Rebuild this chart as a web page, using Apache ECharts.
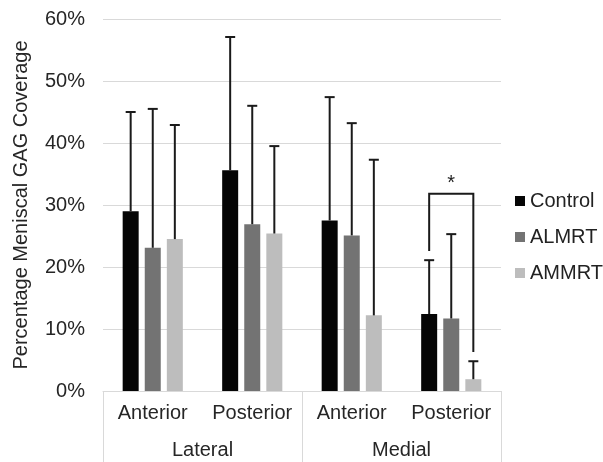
<!DOCTYPE html>
<html style="height: 100%">
<head>
    <meta charset="utf-8">
    <script src="https://cdn.jsdelivr.net/npm/echarts@6/dist/echarts.min.js"></script>
</head>
<body style="height: 100%; margin: 0; background: #fff">
<div id="container" style="width: 603px; height: 462px"></div>
<script type="text/javascript">
// data (percent)
var positions = ['Anterior', 'Posterior', 'Anterior', 'Posterior'];
var regions = ['Lateral', 'Medial'];
var groups = ['Control', 'ALMRT', 'AMMRT'];
var colors = ['#050505', '#737373', '#bdbdbd'];

var control = [29.0, 35.6, 27.5, 12.4];
var almrt = [23.1, 26.9, 25.1, 11.7];
var ammrt = [24.5, 25.4, 12.2, 1.9];

// upper error bars (sd)
var controlErr = [16.0, 21.5, 19.9, 8.7];
var almrtErr = [22.4, 19.1, 18.1, 13.6];
var ammrtErr = [18.4, 14.1, 25.1, 2.9];

// significance bracket: Control vs AMMRT at Medial Posterior
var sigCategory = 3;
var sigTop = 31.8, sigLeftEnd = 22.6, sigRightEnd = 6.3, sigStarAt = 33.8;

var values = [control, almrt, ammrt];
var errors = [controlErr, almrtErr, ammrtErr];
var font = "'Liberation Sans', Arial, sans-serif";
var BAR_W = 16, BAR_GAP = '38%';

var dom = document.getElementById("container");
var myChart = echarts.init(dom);

function offsets(api) {
    return api.barLayout({count: 3, barWidth: BAR_W, barGap: BAR_GAP}).map(function (b) {
        return b.offsetCenter;
    });
}

var series = [];
groups.forEach(function (g, i) {
    series.push({
        name: g,
        type: 'bar',
        barWidth: BAR_W,
        barGap: BAR_GAP,
        itemStyle: {color: colors[i]},
        data: values[i]
    });
});
groups.forEach(function (g, i) {
    series.push({
        name: g + ' error',
        type: 'custom',
        z: 5,
        data: values[i].map(function (v, k) { return [k, v, errors[i][k]]; }),
        renderItem: function (params, api) {
            var k = api.value(0), v = api.value(1), e = api.value(2);
            var off = offsets(api)[i];
            var p0 = api.coord([k, v]);
            var p1 = api.coord([k, v + e]);
            var x = p0[0] + off;
            var style = {stroke: '#1a1a1a', lineWidth: 2};
            return {
                type: 'group',
                children: [
                    {type: 'line', shape: {x1: x, y1: p0[1], x2: x, y2: p1[1]}, style: style},
                    {type: 'line', shape: {x1: x - 5, y1: p1[1], x2: x + 5, y2: p1[1]}, style: style}
                ]
            };
        }
    });
});
series.push({
    name: 'significance',
    type: 'custom',
    z: 6,
    data: [[sigCategory, sigTop, sigLeftEnd, sigRightEnd, sigStarAt]],
    renderItem: function (params, api) {
        var off = offsets(api);
        var k = api.value(0);
        var top = api.coord([k, api.value(1)]);
        var yl = api.coord([k, api.value(2)])[1];
        var yr = api.coord([k, api.value(3)])[1];
        var ys = api.coord([k, api.value(4)])[1];
        var xl = top[0] + off[0], xr = top[0] + off[2];
        var style = {stroke: '#1a1a1a', lineWidth: 2, fill: null};
        return {
            type: 'group',
            children: [
                {type: 'polyline', shape: {points: [[xl, yl], [xl, top[1]], [xr, top[1]], [xr, yr]]}, style: style},
                {type: 'text', style: {text: '*', x: (xl + xr) / 2, y: ys + 2, align: 'center', verticalAlign: 'middle',
                    fontSize: 20, fontFamily: font, fill: '#222'}}
            ]
        };
    }
});

var option = {
    animation: false,
    textStyle: {fontFamily: font},
    grid: {left: 103, right: 102, top: 19, bottom: 71, containLabel: false},
    legend: {
        data: groups,
        orient: 'vertical',
        left: 510,
        top: 186,
        icon: 'rect',
        itemWidth: 10,
        itemHeight: 10,
        itemGap: 16,
        textStyle: {fontSize: 20, color: '#222', fontFamily: font}
    },
    xAxis: [{
        type: 'category',
        data: positions,
        axisLine: {lineStyle: {color: '#d9d9d9', width: 1}},
        axisTick: {show: false},
        axisLabel: {fontSize: 20, color: '#262626', margin: 12, interval: 0}
    }, {
        type: 'category',
        data: regions,
        position: 'bottom',
        axisLine: {show: false},
        axisTick: {show: true, length: 71, lineStyle: {color: '#d9d9d9'}},
        axisLabel: {fontSize: 20, color: '#262626', margin: 49}
    }],
    yAxis: {
        type: 'value',
        min: 0,
        max: 60,
        interval: 10,
        name: 'Percentage Meniscal GAG Coverage',
        nameLocation: 'middle',
        nameGap: 72,
        nameTextStyle: {fontSize: 20, color: '#262626'},
        axisLine: {show: false},
        axisTick: {show: false},
        axisLabel: {formatter: '{value}%', fontSize: 20, color: '#262626', margin: 18},
        splitLine: {lineStyle: {color: '#d9d9d9', width: 1}}
    },
    series: series
};

myChart.setOption(option);
</script>
</body>
</html>
